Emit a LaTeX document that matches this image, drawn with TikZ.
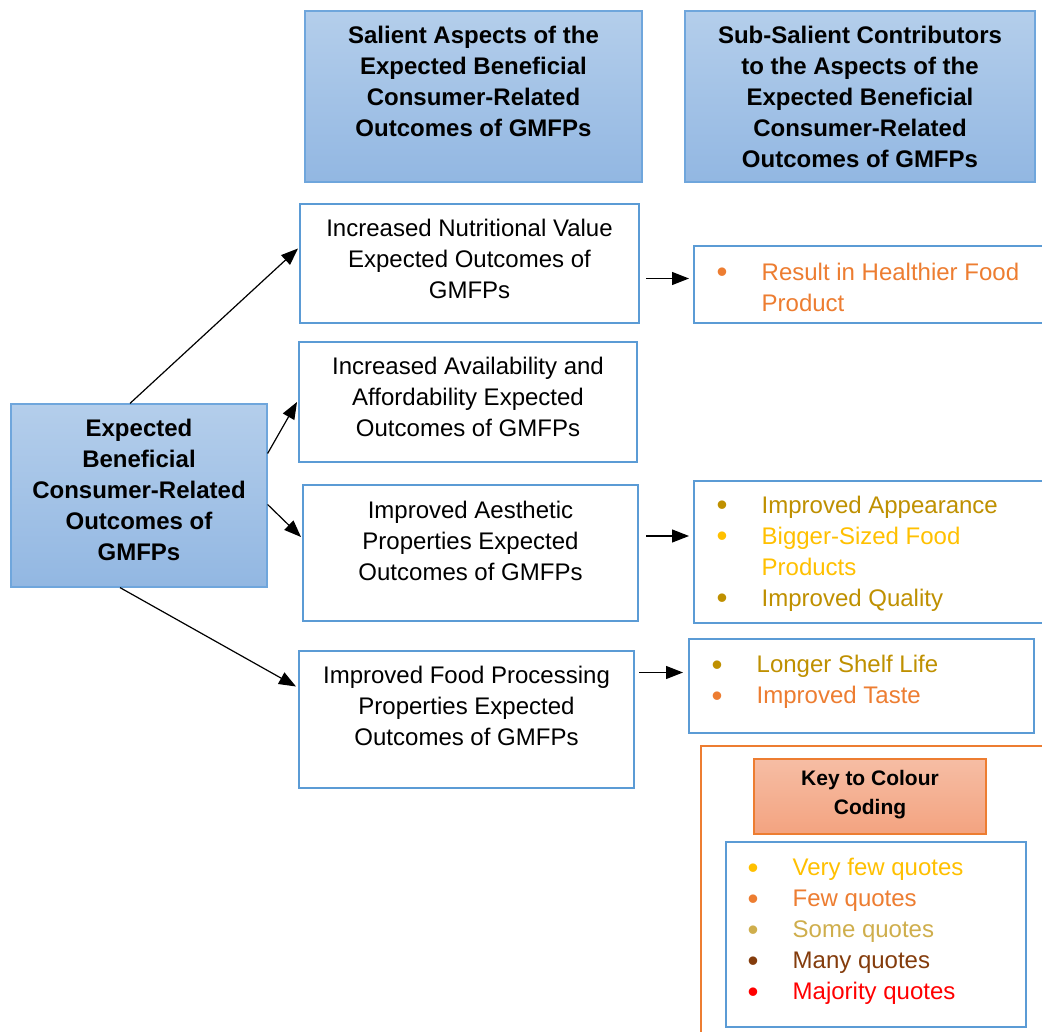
\documentclass[tikz,border=0pt]{standalone}
\usepackage{fontspec}
\setmainfont{Liberation Sans}
\usetikzlibrary{arrows.meta,calc}

\definecolor{boxblue}{HTML}{5B9BD5}
\definecolor{hdrline}{HTML}{6FA6DC}
\definecolor{hdrtop}{HTML}{B4CEEB}
\definecolor{hdrbot}{HTML}{92B7E2}
\definecolor{keyline}{HTML}{ED7D31}
\definecolor{keytop}{HTML}{F6BDA4}
\definecolor{keybot}{HTML}{F3A380}
\definecolor{cyellow}{HTML}{FFC000}
\definecolor{corange}{HTML}{ED7D31}
\definecolor{cgold}{HTML}{BF9000}
\definecolor{csome}{HTML}{CFAE4C}
\definecolor{cbrown}{HTML}{843C0C}
\definecolor{cred}{HTML}{FF0000}

% bullet line: coloured dot, then the entry in the same colour
\newcommand\bigdot{\raisebox{-2.6pt}{\scalebox{1.3}{•}}}
\newcommand\bul[2]{\makebox[45pt][l]{\textcolor{#1}{\bigdot}}\textcolor{#1}{#2}}
\newcommand\cont[2]{\hspace*{45pt}\textcolor{#1}{#2}}

\begin{document}
\begin{tikzpicture}[x=1pt,y=-1pt,
  outbox/.style={draw=boxblue, line width=2pt, fill=white, inner sep=0pt},
  hdrbox/.style={draw=hdrline, line width=1.2pt, top color=hdrtop, bottom color=hdrbot, inner sep=0pt},
  keyhead/.style={draw=keyline, line width=1.2pt, top color=keytop, bottom color=keybot, inner sep=0pt},
  txt/.style={align=center, inner sep=0pt, font=\fontsize{24}{31}\selectfont},
  btxt/.style={txt, font=\fontsize{24}{31}\selectfont\bfseries},
  list/.style={align=left, anchor=west, inner sep=0pt, font=\fontsize{24}{31}\selectfont},
  arr/.style={-{Triangle[length=17pt,width=13pt]}, line width=1.2pt, black}]
\useasboundingbox (0,0) rectangle (1042,1032);

% column headers
\node[hdrbox, minimum width=337pt, minimum height=171pt] (h1) at (473.5,96.5) {};
\node[btxt] (h1t) at (473.5,81) {Salient Aspects of the\\Expected Beneficial\\Consumer-Related\\Outcomes of GMFPs};
\node[hdrbox, minimum width=350pt, minimum height=171pt] (h2) at (860,96.5) {};
\node[btxt] (h2t) at (860,96.5) {Sub-Salient Contributors\\to the Aspects of the\\Expected Beneficial\\Consumer-Related\\Outcomes of GMFPs};

% central theme
\node[hdrbox, minimum width=256pt, minimum height=183pt] (main) at (139,495.5) {};
\node[btxt] (maint) at (139,489.5) {Expected\\Beneficial\\Consumer-Related\\Outcomes of\\GMFPs};

% salient aspects
\node[outbox, minimum width=339pt, minimum height=119pt] (b1) at (469.5,263.5) {};
\node[txt] (b1t) at (469.5,259) {Increased Nutritional Value\\Expected Outcomes of\\GMFPs};
\node[outbox, minimum width=338pt, minimum height=120pt] (b2) at (468,402) {};
\node[txt] (b2t) at (468,397) {Increased Availability and\\Affordability Expected\\Outcomes of GMFPs};
\node[outbox, minimum width=335pt, minimum height=136pt] (b3) at (470.5,553) {};
\node[txt] (b3t) at (470.5,541) {Improved Aesthetic\\Properties Expected\\Outcomes of GMFPs};
\node[outbox, minimum width=335pt, minimum height=137pt] (b4) at (466.5,719.5) {};
\node[txt] (b4t) at (466.5,706) {Improved Food Processing\\Properties Expected\\Outcomes of GMFPs};

% sub-salient contributors
\node[outbox, minimum width=356pt, minimum height=77pt] (s1) at (872,284.5) {};
\node[list] (s1t) at (716.5,287) {\bul{corange}{Result in Healthier Food}\\\cont{corange}{Product}};
\node[outbox, minimum width=356pt, minimum height=142pt] (s3) at (872,552) {};
\node[list] (s3t) at (716.5,553.5) {\bul{cgold}{Improved Appearance}\\\bul{cyellow}{Bigger-Sized Food}\\\cont{cyellow}{Products}\\\bul{cgold}{Improved Quality}};
\node[outbox, minimum width=345pt, minimum height=94pt] (s4) at (861.5,686) {};
\node[list] (s4t) at (711.5,682) {\bul{cgold}{Longer Shelf Life}\\\bul{corange}{Improved Taste}};

% colour key
\node[draw=keyline, line width=2pt, minimum width=360pt, minimum height=300pt, anchor=north west, inner sep=0pt] (key) at (700,745) {};
\node[keyhead, minimum width=232pt, minimum height=75pt] (kh) at (870,796.5) {};
\node[btxt, font=\fontsize{21}{29}\selectfont\bfseries] (kht) at (870,794.5) {Key to Colour\\Coding};
\node[outbox, minimum width=300pt, minimum height=185pt] (kl) at (876,934.5) {};
\node[list] (klt) at (747.5,931.5) {\bul{cyellow}{Very few quotes}\\\bul{corange}{Few quotes}\\\bul{csome}{Some quotes}\\\bul{cbrown}{Many quotes}\\\bul{cred}{Majority quotes}};

% connectors from the central theme
\draw[arr] ([xshift=-9pt]main.north) -- ([yshift=15pt,xshift=-1pt]b1.west);
\draw[arr] ([yshift=42pt]main.east) -- ([xshift=-1pt]b2.west);
\draw[arr] ([yshift=-9pt]main.east) -- ([yshift=16pt,xshift=-1pt]b3.west);
\draw[arr] ([xshift=-19pt]main.south) -- ([yshift=33pt,xshift=-2pt]b4.west);

% connectors to the contributors
\coordinate (a1) at ([xshift=6pt,yshift=-15pt]b1.east);
\draw[arr, shorten >=4pt] (a1) -- (a1 -| s1.west);
\coordinate (a3) at ([xshift=7pt,yshift=17pt]b3.east);
\draw[arr, shorten >=4pt] (a3) -- (a3 -| s3.west);
\coordinate (a4) at ([xshift=4pt,yshift=47pt]b4.east);
\draw[arr, shorten >=5pt] (a4) -- (a4 -| s4.west);
\end{tikzpicture}
\end{document}
